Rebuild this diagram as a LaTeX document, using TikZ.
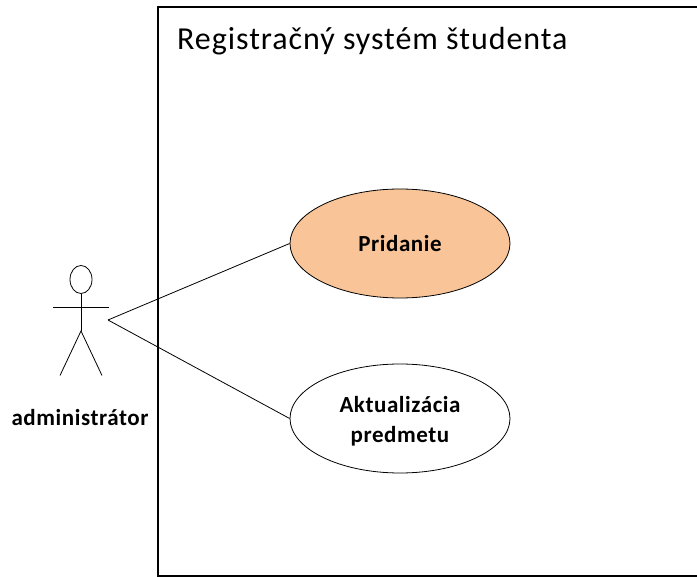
\documentclass[tikz,border=0pt]{standalone}
\usepackage{fontspec}
\setmainfont{Carlito}
\newfontfamily\boldlabel[LetterSpace=2.5]{Carlito Bold}
\newfontfamily\titlelabel[LetterSpace=3]{Carlito}
\usetikzlibrary{shapes.geometric}
\definecolor{peach}{RGB}{248,196,152}
\tikzset{
  usecase/.style={ellipse,draw=black,line width=0.8pt,minimum width=220pt,minimum height=109pt,inner sep=0pt},
  caseText/.style={inner sep=0pt,anchor=base,font=\boldlabel\fontsize{23}{30}\selectfont},
  thin line/.style={draw=black,line width=0.8pt},
  sysbox/.style={draw=black,line width=2pt}
}
\begin{document}
\begin{tikzpicture}[x=1pt,y=-1pt]
\useasboundingbox (0,0) rectangle (697,577);
\fill[white] (0,0) rectangle (697,577);
\draw[sysbox] (697,7) -- (157.5,7) -- (157.5,576.3) -- (697,576.3);
\node[anchor=base west,inner sep=0pt,font=\titlelabel\fontsize{32}{36}\selectfont] (title) at (177,49.5) {Registračný systém študenta};
\node[usecase,fill=peach] (uc1) at (400,243.5) {};
\node[usecase,fill=white] (uc2) at (400,418.5) {};
\node[caseText] (uc1text) at (400,252) {Pridanie};
\node[caseText] (uc2text) at (400,412.7) {Aktualizácia};
\node[caseText] (uc2textb) at (400,442.7) {predmetu};
\node[ellipse,thin line,minimum width=22pt,minimum height=28pt,inner sep=0pt] (head) at (81,279.5) {};
\coordinate (hip) at (81,331);
\coordinate (armL) at (53,307);
\coordinate (armR) at (109,307);
\coordinate (legL) at (60,375.5);
\coordinate (legR) at (102,375.5);
\coordinate (apex) at (108,320);
\draw[thin line] (head.south) -- (hip);
\draw[thin line] (armL) -- (armR);
\draw[thin line] (legL) -- (hip) -- (legR);
\draw[thin line] (apex) -- (uc1.west);
\draw[thin line] (apex) -- (uc2.west);
\node[caseText] (actor) at (80,426) {administrátor};
\end{tikzpicture}
\end{document}
